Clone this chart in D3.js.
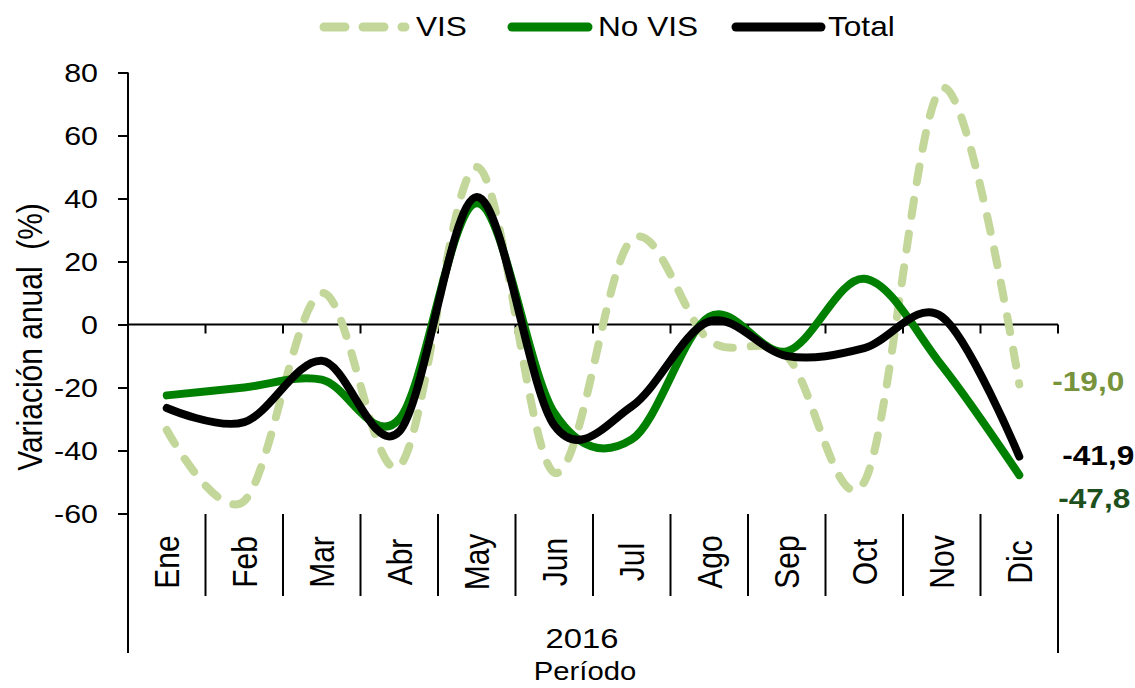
<!DOCTYPE html>
<html>
<head>
<meta charset="utf-8">
<script src="https://cdn.jsdelivr.net/npm/d3@7"></script>
<style>
  body { margin: 0; background: #fff; }
  text { font-family: "Liberation Sans", Arial, sans-serif; }
</style>
</head>
<body>
<div id="chart"></div>
<script>
'use strict';

// Data
var months = ["Ene", "Feb", "Mar", "Abr", "May", "Jun", "Jul", "Ago", "Sep", "Oct", "Nov", "Dic"];
var vis    = [-33.5, -56, 10, -45, 50, -47, 27, -5, -10, -50, 75, -19.0];
var noVis  = [-22.5, -20, -17.5, -30, 38.5, -28, -36.5, 2.5, -8.5, 14.5, -13, -47.8];
var total  = [-26.5, -31, -11.5, -34, 40.5, -32, -26, 1, -10, -7.5, 2.5, -41.9];
var yTicks = [-60, -40, -20, 0, 20, 40, 60, 80];
var year = "2016";

var width = 1135, height = 688;
// the source image is stretched horizontally, text is scaled to match
var SX = 1.17;

var svg = d3.select("#chart").append("svg")
  .attr("width", width)
  .attr("height", height);

var x = d3.scaleBand().domain(months).range([128, 1058]);
var y = d3.scaleLinear().domain([-60, 80]).range([513.5, 72.5]);
function xc(m) { return x(m) + x.bandwidth() / 2; }

function place(sel, px, py, rot) {
  sel.attr("transform", "translate(" + px + "," + py + ") scale(" + SX + ",1)" + (rot ? " rotate(" + rot + ")" : ""));
  return sel;
}

// Y axis
var yAxis = d3.axisLeft(y).tickValues(yTicks).tickSize(10).tickFormat(d3.format("d"));
var gy = svg.append("g").attr("transform", "translate(128,0)").call(yAxis);
gy.select(".domain").remove();
gy.selectAll(".tick line").attr("stroke", "#000").attr("stroke-width", 2);
gy.selectAll(".tick text").remove();
gy.selectAll(".tick").each(function(d) {
  var t = d3.select(this).append("text")
    .attr("text-anchor", "end")
    .attr("dy", "0.36em")
    .attr("fill", "#000")
    .style("font-size", "26px")
    .text(d);
  place(t, -30, 0);
});
svg.append("line")
  .attr("x1", 128).attr("x2", 128)
  .attr("y1", y(80)).attr("y2", 653)
  .attr("stroke", "#000").attr("stroke-width", 2);

// Zero line with category ticks
svg.append("line")
  .attr("x1", 128).attr("x2", 1058)
  .attr("y1", y(0)).attr("y2", y(0))
  .attr("stroke", "#000").attr("stroke-width", 2);
var bounds = months.map(function(m) { return x(m) + x.bandwidth(); });
svg.selectAll("line.zt")
  .data(bounds)
  .enter().append("line")
  .attr("class", "zt")
  .attr("x1", function(d) { return d; }).attr("x2", function(d) { return d; })
  .attr("y1", y(0)).attr("y2", y(0) + 9)
  .attr("stroke", "#000").attr("stroke-width", 2);

// Category separators below plot
svg.selectAll("line.sep")
  .data(bounds.slice(0, -1))
  .enter().append("line")
  .attr("class", "sep")
  .attr("x1", function(d) { return d; }).attr("x2", function(d) { return d; })
  .attr("y1", 514).attr("y2", 596)
  .attr("stroke", "#000").attr("stroke-width", 2);
svg.append("line")
  .attr("x1", 1058).attr("x2", 1058)
  .attr("y1", 514).attr("y2", 653)
  .attr("stroke", "#000").attr("stroke-width", 2);

// Month labels (rotated)
months.forEach(function(m) {
  var t = svg.append("text")
    .attr("text-anchor", "middle")
    .attr("dy", "0.36em")
    .style("font-size", "30px")
    .text(m);
  place(t, xc(m), 562, -90);
});

var t2016 = svg.append("text").attr("text-anchor", "middle").style("font-size", "28px").text(year);
place(t2016, 582, 648);
var tPer = svg.append("text").attr("text-anchor", "middle").style("font-size", "25px").text("Período");
place(tPer, 585, 680);

var tY = svg.append("text").attr("text-anchor", "middle").style("font-size", "30px")
  .attr("xml:space", "preserve")
  .text("Variación anual  (%)");
place(tY, 42, 337, -90);

// Lines
var series = [
  { name: "VIS", values: vis, color: "#c4d79b", dash: "16 18" },
  { name: "No VIS", values: noVis, color: "#008000", dash: null },
  { name: "Total", values: total, color: "#000000", dash: null }
];

var line = d3.line()
  .x(function(d, i) { return xc(months[i]); })
  .y(function(d) { return y(d); })
  .curve(d3.curveCardinal.tension(0));

svg.selectAll("path.series")
  .data(series)
  .enter().append("path")
  .attr("class", "series")
  .attr("d", function(s) { return line(s.values); })
  .attr("fill", "none")
  .attr("stroke", function(s) { return s.color; })
  .attr("stroke-width", 8)
  .attr("stroke-linecap", "round")
  .attr("stroke-linejoin", "round")
  .attr("stroke-dasharray", function(s) { return s.dash; });

// End labels
var last = months[months.length - 1];
var endLabels = [
  { v: vis[11], color: "#77933c", dx: 33, dy: 7 },
  { v: total[11], color: "#000000", dx: 43, dy: 9 },
  { v: noVis[11], color: "#1e501e", dx: 39, dy: 33 }
];
endLabels.forEach(function(l) {
  var t = svg.append("text")
    .attr("fill", l.color)
    .style("font-size", "27px")
    .style("font-weight", "bold")
    .text(d3.format(".1f")(l.v).replace(".", ",").replace("−", "-"));
  place(t, xc(last) + l.dx, y(l.v) + l.dy);
});

// Legend
var legend = [
  { name: "VIS", color: "#c4d79b", dash: "21 18", x1: 324, x2: 405, tx: 416 },
  { name: "No VIS", color: "#008000", dash: null, x1: 512, x2: 588, tx: 598 },
  { name: "Total", color: "#000000", dash: null, x1: 736, x2: 821, tx: 828 }
];
legend.forEach(function(l) {
  svg.append("line")
    .attr("x1", l.x1).attr("x2", l.x2)
    .attr("y1", 27).attr("y2", 27)
    .attr("stroke", l.color)
    .attr("stroke-width", 9)
    .attr("stroke-linecap", "round")
    .attr("stroke-dasharray", l.dash);
  var t = svg.append("text").style("font-size", "27px").text(l.name);
  place(t, l.tx, 36);
});
</script>
</body>
</html>
